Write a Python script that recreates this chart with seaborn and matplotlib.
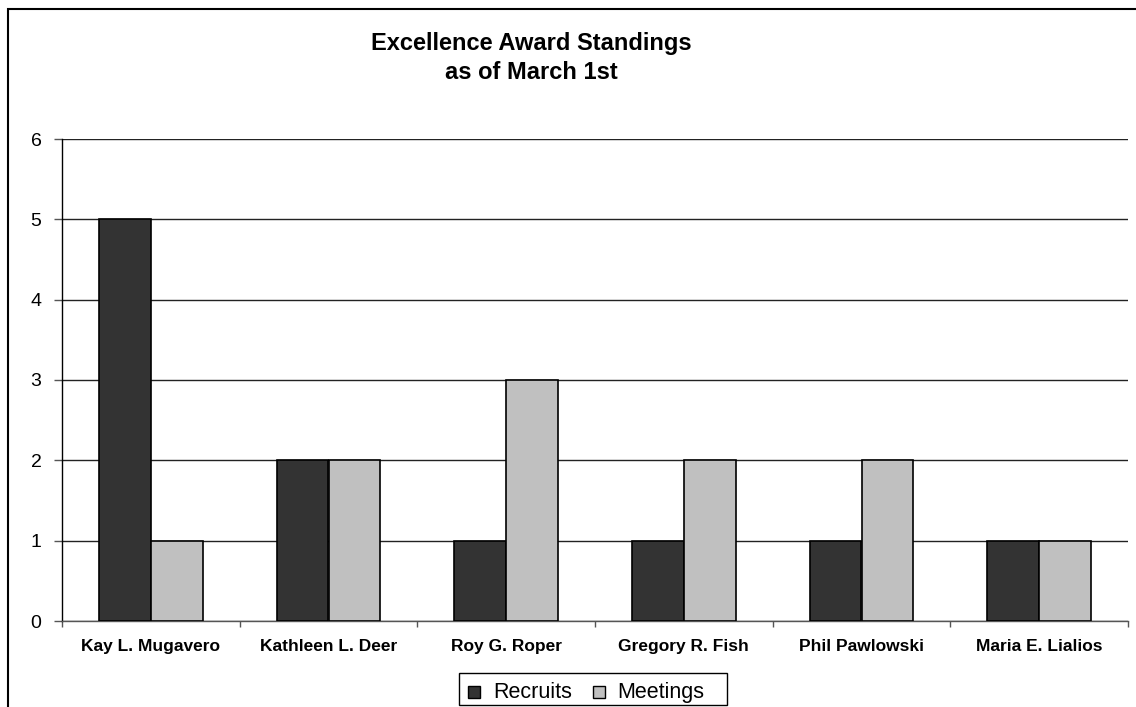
import matplotlib
matplotlib.use("Agg")
import matplotlib.pyplot as plt
import seaborn as sns
import pandas as pd
from matplotlib.patches import Rectangle

names = ["Kay L. Mugavero", "Kathleen L. Deer", "Roy G. Roper",
         "Gregory R. Fish", "Phil Pawlowski", "Maria E. Lialios"]
recruits = [5, 2, 1, 1, 1, 1]
meetings = [1, 2, 3, 2, 2, 1]
series = ["Recruits", "Meetings"]
colors = ["#333333", "#C0C0C0"]

df = pd.DataFrame({
    "name": names * 2,
    "value": recruits + meetings,
    "series": [series[0]] * len(names) + [series[1]] * len(names),
})

sns.set_style("white")
plt.rcParams["font.family"] = ["Liberation Sans", "DejaVu Sans"]
plt.rcParams["text.color"] = "black"

W, H = 1136, 707
fig = plt.figure(figsize=(W / 100, H / 100), dpi=100)
ax = fig.add_axes([62 / W, 1 - 621 / H, (1128 - 62) / W, (621 - 139) / H])

sns.barplot(data=df, x="name", y="value", hue="series", order=names,
            hue_order=series, palette=colors, width=0.585, gap=0,
            edgecolor="black", linewidth=1.2, saturation=1, ax=ax,
            legend=False, zorder=3)

ax.set_ylim(0, 6)
ax.set_xlim(-0.5, len(names) - 0.5)
ax.set_yticks(range(0, 7))
ax.yaxis.grid(True, color="#222222", linewidth=1.0, zorder=0)
ax.set_axisbelow(True)
for s in ["top", "right"]:
    ax.spines[s].set_visible(False)
ax.spines["left"].set_color("black")
ax.spines["left"].set_linewidth(1.0)
ax.spines["bottom"].set_color("#555555")
ax.spines["bottom"].set_linewidth(1.0)

ax.set_xlabel("")
ax.set_ylabel("")
ax.tick_params(axis="y", which="major", direction="out", length=5.8, width=1,
               color="#555555", labelsize=14, labelcolor="black", pad=9, left=True)
ax.set_xticks(range(len(names)))
ax.set_xticklabels(names, fontsize=12.5, fontweight="bold", color="black")
ax.tick_params(axis="x", which="major", length=0, pad=13)
ax.set_xticks([i - 0.5 for i in range(len(names) + 1)], minor=True)
ax.tick_params(axis="x", which="minor", direction="out", length=4, width=1,
               color="#555555", bottom=True)

fig.text(531 / W, 1 - 58 / H, "Excellence Award Standings\nas of March 1st",
         ha="center", va="center", fontsize=17, fontweight="bold",
         linespacing=1.32, color="black")

# legend (drawn by hand so both labels share one baseline)
def px(x, y):
    return x / W, 1 - y / H

fig.patches.append(Rectangle(px(459, 705), (727 - 459) / W, (705 - 673) / H,
                             transform=fig.transFigure, facecolor="white",
                             edgecolor="black", linewidth=1.0, zorder=11))
leg_items = [(468, 493), (593, 617)]
for (sx, tx), lab, col in zip(leg_items, series, colors):
    fig.patches.append(Rectangle(px(sx, 698), 12 / W, 12 / H,
                                 transform=fig.transFigure, facecolor=col,
                                 edgecolor="black", linewidth=1.0, zorder=12))
    fig.text(*px(tx, 698), lab, ha="left", va="baseline", fontsize=15.5,
             color="black", zorder=12)

fig.patches.append(Rectangle((8 / W, -0.1), 1.2, 1 - 9 / H + 0.1,
                             transform=fig.transFigure, fill=False,
                             edgecolor="black", linewidth=1.5, zorder=10))

fig.savefig("out.png", dpi=100)
